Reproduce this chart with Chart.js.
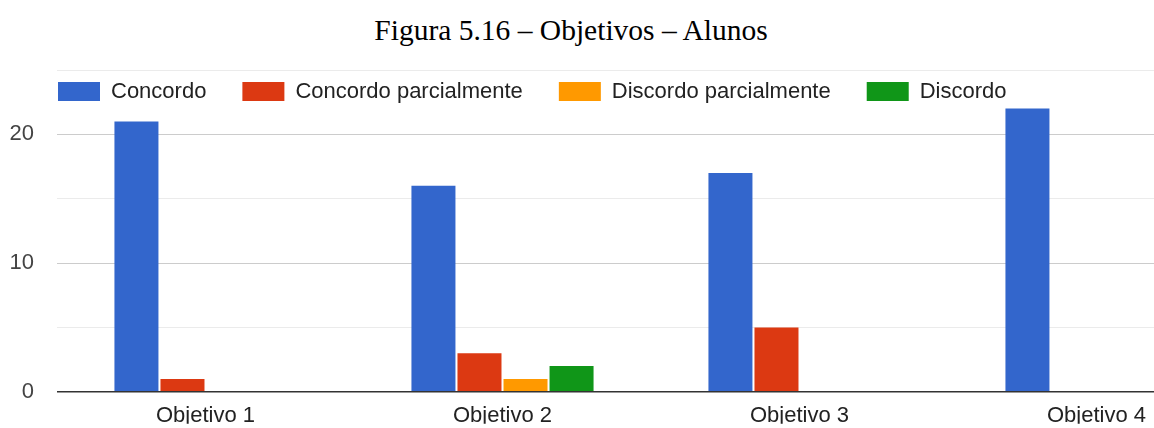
<!DOCTYPE html>
<html>
<head>
<meta charset="utf-8">
<script src="https://cdn.jsdelivr.net/npm/chart.js@4"></script>
<style>
  html, body { margin: 0; padding: 0; background: #fff; overflow: hidden; }
  #title {
    position: absolute; left: 0; top: 15px; width: 1142px;
    text-align: center; font-family: "Liberation Serif", "Times New Roman", serif;
    font-size: 29.5px; line-height: 30px; color: #000;
  }
  #wrap { position: absolute; left: 0; top: 0; width: 1250px; height: 428px; }
</style>
</head>
<body>
<div id="title">Figura 5.16 – Objetivos – Alunos</div>
<div id="wrap"><canvas id="myChart"></canvas></div>
<script>
const labels = ['Objetivo 1', 'Objetivo 2', 'Objetivo 3', 'Objetivo 4'];
const seriesNames = ['Concordo', 'Concordo parcialmente', 'Discordo parcialmente', 'Discordo'];
const concordo = [21, 16, 17, 22];
const concordoParcial = [1, 3, 5, 0];
const discordoParcial = [0, 1, 0, 0];
const discordo = [0, 2, 0, 0];
const yTicks = [0, 10, 20];
const colors = ['#3366cc', '#dc3912', '#ff9900', '#109618'];

const font = '"Liberation Sans", Arial, sans-serif';

// legend drawn inside the plot, like the google chart
const insideLegend = {
  id: 'insideLegend',
  afterDraw(chart) {
    const c = chart.ctx;
    const area = chart.chartArea;
    let x = area.left + 1;
    const y = 82;
    c.save();
    c.font = '22px ' + font;
    c.textBaseline = 'middle';
    chart.data.datasets.forEach(ds => {
      c.fillStyle = ds.backgroundColor;
      c.fillRect(x, y, 42, 19);
      c.fillStyle = '#222';
      c.fillText(ds.label, x + 53, y + 10);
      x += 53 + c.measureText(ds.label).width + 36;
    });
    c.restore();
  }
};

const ctx = document.getElementById('myChart');

new Chart(ctx, {
  type: 'bar',
  data: {
    labels: labels,
    datasets: [
      { label: seriesNames[0], data: concordo, backgroundColor: colors[0] },
      { label: seriesNames[1], data: concordoParcial, backgroundColor: colors[1] },
      { label: seriesNames[2], data: discordoParcial, backgroundColor: colors[2] },
      { label: seriesNames[3], data: discordo, backgroundColor: colors[3] }
    ]
  },
  options: {
    responsive: true,
    maintainAspectRatio: false,
    animation: false,
    layout: { padding: { top: 70, right: 5, left: 0, bottom: 0 } },
    datasets: {
      bar: { categoryPercentage: 0.62, barPercentage: 0.956 }
    },
    scales: {
      x: {
        afterFit(scale) { scale.height = 32; },
        grid: { display: false, drawTicks: false },
        border: { display: false },
        ticks: { color: '#222', padding: 11, font: { family: font, size: 22 } }
      },
      y: {
        min: 0,
        max: 25,
        border: { display: false },
        afterFit(scale) { scale.width = 57; },
        grid: {
          drawTicks: false,
          color: c => c.tick.value === 0 ? '#333' : (c.tick.value % 10 === 0 ? '#cccccc' : '#ebebeb'),
          lineWidth: c => c.tick.value === 0 ? 1.6 : 1
        },
        ticks: {
          stepSize: 5,
          padding: 23,
          color: '#444',
          font: { family: font, size: 22 },
          callback: v => yTicks.includes(v) ? String(v) : ''
        }
      }
    },
    plugins: {
      legend: { display: false },
      tooltip: { enabled: false }
    }
  },
  plugins: [insideLegend]
});
</script>
</body>
</html>
